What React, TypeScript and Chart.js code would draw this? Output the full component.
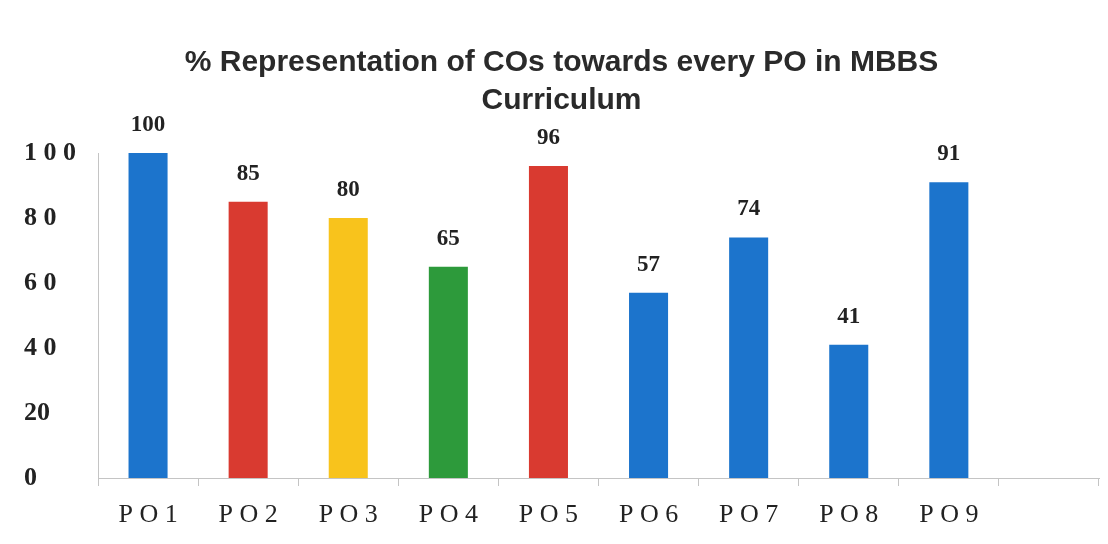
import React, { useEffect, useRef } from "react";
import { Chart, registerables } from "chart.js";

Chart.register(...registerables);

const categories = ["P O 1", "P O 2", "P O 3", "P O 4", "P O 5", "P O 6", "P O 7", "P O 8", "P O 9", ""];
const values: (number | null)[] = [100, 85, 80, 65, 96, 57, 74, 41, 91, null];
const barColors = ["#1c74cc", "#d93a30", "#f8c31c", "#2d9a3b", "#d93a30", "#1c74cc", "#1c74cc", "#1c74cc", "#1c74cc", "#1c74cc"];
const yTickLabels: Record<number, string> = { 0: "0", 20: "20", 40: "4 0", 60: "6 0", 80: "8 0", 100: "1 0 0" };
const titleLines = ["% Representation of COs towards every PO in MBBS", "Curriculum"];

const valueLabels = {
  id: "valueLabels",
  afterDatasetsDraw(chart: any) {
    const ctx = chart.ctx;
    const meta = chart.getDatasetMeta(0);
    ctx.save();
    ctx.font = "bold 23px 'Liberation Serif', 'Times New Roman', serif";
    ctx.fillStyle = "#222";
    ctx.textAlign = "center";
    ctx.textBaseline = "middle";
    meta.data.forEach((bar: any, i: number) => {
      const v = values[i];
      if (v === null) return;
      ctx.fillText(String(v), bar.x, bar.y - 28);
    });
    ctx.restore();
  },
};

export default function App() {
  const ref = useRef<HTMLCanvasElement | null>(null);
  useEffect(() => {
    if (!ref.current) return;
    const chart = new Chart(ref.current, {
      type: "bar",
      data: {
        labels: categories,
        datasets: [
          {
            data: values as any,
            backgroundColor: barColors,
            barPercentage: 0.39,
            categoryPercentage: 1,
          },
        ],
      },
      options: {
        animation: false,
        responsive: true,
        maintainAspectRatio: false,
        layout: { padding: { left: 16, right: 1, top: 0, bottom: 0 } },
        plugins: {
          legend: { display: false },
          tooltip: { enabled: false },
          title: {
            display: true,
            text: titleLines,
            color: "#2a2a2a",
            font: { family: "'Liberation Sans', Arial, sans-serif", size: 30, weight: "bold", lineHeight: 1.25 },
            padding: { top: 36, bottom: 34 },
          },
        },
        scales: {
          x: {
            grid: { display: true, drawOnChartArea: false, drawTicks: true, tickLength: 8, color: "#c4c4c4", offset: true },
            border: { display: true, color: "#c4c4c4" },
            ticks: {
              color: "#222",
              padding: 14,
              maxRotation: 0,
              autoSkip: false,
              font: { family: "'Liberation Serif', 'Times New Roman', serif", size: 26 },
            },
            afterFit: (s: any) => { s.height = 58; },
          },
          y: {
            min: 0,
            max: 100,
            grid: { display: false, drawTicks: false },
            border: { display: true, color: "#c4c4c4" },
            ticks: {
              stepSize: 20,
              crossAlign: "far",
              color: "#222",
              font: { family: "'Liberation Serif', 'Times New Roman', serif", size: 26, weight: "bold" },
              callback: (v: any) => yTickLabels[v as number] ?? String(v),
            },
            afterFit: (s: any) => { s.width = 74; },
          },
        },
      },
      plugins: [valueLabels],
    });
    return () => chart.destroy();
  }, []);
  return (
    <div style={{ width: 1092, height: 528, position: "relative" }}>
      <canvas ref={ref} />
    </div>
  );
}
